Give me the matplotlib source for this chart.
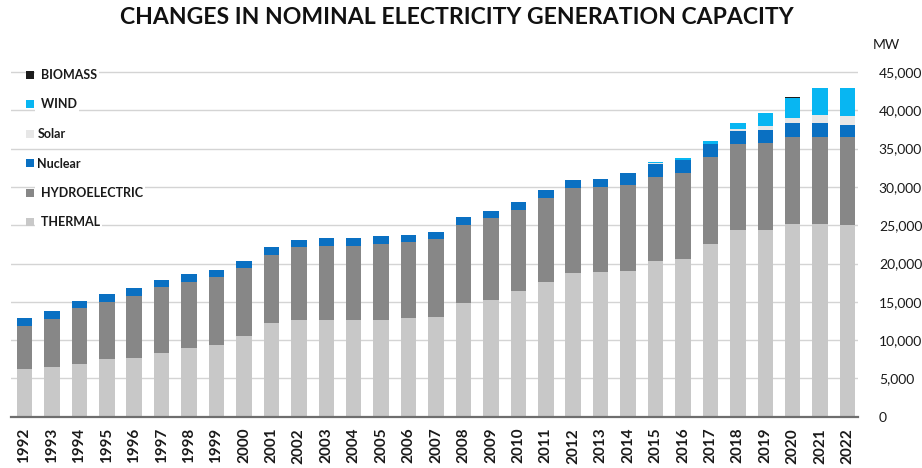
import matplotlib
matplotlib.use("Agg")
import matplotlib.pyplot as plt
import numpy as np

years = [str(y) for y in range(1992, 2023)]
thermal = [6230, 6450, 6880, 7490, 7700, 8270, 8930, 9360, 10530, 12190, 12600,
           12620, 12620, 12620, 12840, 13050, 14900, 15300, 16400, 17600, 18700,
           18850, 19060, 20330, 20590, 22600, 24370, 24370, 25100, 25200, 25050]
hydro = [5670, 6300, 7270, 7510, 8100, 8630, 8670, 8840, 8840, 8910, 9500,
         9680, 9680, 9930, 9930, 10110, 10100, 10600, 10600, 11000, 11200,
         11150, 11190, 10970, 11210, 11300, 11230, 11330, 11380, 11280, 11430]
nuclear = [1010] * 22 + [1600, 1755, 1755, 1755, 1755, 1755, 1820, 1820, 1600]
solar = [0] * 23 + [10, 10, 10, 200, 450, 660, 1090, 1180]
wind = [0] * 23 + [250, 200, 300, 800, 1700, 2610, 3480, 3610]
biomass = [0] * 28 + [200, 0, 0]

series = [
    (" THERMAL", thermal, "#c8c8c8"),
    (" HYDROELECTRIC", hydro, "#878787"),
    ("Nuclear", nuclear, "#0a70c2"),
    ("Solar", solar, "#e7e7e7"),
    (" WIND", wind, "#08b6f2"),
    (" BIOMASS", biomass, "#1c1c1c"),
]
yticks = [0, 5000, 10000, 15000, 20000, 25000, 30000, 35000, 40000, 45000]

plt.rcParams['font.family'] = ['Lato', 'DejaVu Sans']

fig = plt.figure(figsize=(9.22, 4.68), dpi=100)
ax = fig.add_axes([11 / 922, 1 - 416.7 / 468, (858 - 11) / 922, (416.7 - 68.2) / 468])

x = np.arange(len(years))
bottom = np.zeros(len(years))
handles = []
for label, vals, color in series:
    v = np.array(vals, dtype=float)
    b = ax.bar(x, v, bottom=bottom, width=0.565, color=color, label=label, zorder=3)
    handles.append(b)
    bottom += v

ax.set_xlim(-0.49, 30.38)
ax.set_ylim(0, 45500)
ax.set_xticks(x)
ax.set_xticklabels(years, rotation=90, fontsize=11, fontweight='bold', color='#1a1a1a')
ax.yaxis.tick_right()
ax.set_yticks(yticks)
ax.set_yticklabels([f"{t:,}" for t in yticks], fontsize=10, color='#1a1a1a', ha='left')
ax.tick_params(axis='y', length=0, pad=15)
ax.tick_params(axis='x', length=0, pad=8)
ax.grid(axis='y', color='#d4d4d4', linewidth=1, zorder=0)
ax.set_axisbelow(True)
for s in ['top', 'left', 'right']:
    ax.spines[s].set_visible(False)
ax.spines['bottom'].set_color('#6e6e6e')
ax.spines['bottom'].set_linewidth(1.6)
ax.spines['bottom'].set_zorder(4)

fig.text(456.5 / 922, 1 - 18 / 468, "CHANGES IN NOMINAL ELECTRICITY GENERATION CAPACITY",
         ha='center', va='center', fontsize=16.6, fontweight='bold', color='#111111')
fig.text(873 / 922, 1 - 45 / 468, "MW", ha='left', va='center', fontsize=10, color='#1a1a1a')

leg = fig.legend(handles[::-1], [h.get_label() for h in handles[::-1]],
                 loc='upper left', bbox_to_anchor=(26 / 922, 1 - 69 / 468),
                 frameon=False, fontsize=9, handlelength=0.62, handleheight=0.62,
                 handletextpad=0.3, labelspacing=1.40, borderpad=0, borderaxespad=0)
for t in leg.get_texts():
    t.set_fontweight('bold')
    t.set_color('#1a1a1a')
    t.set_bbox(dict(facecolor='white', edgecolor='none', pad=1.5))

fig.savefig("out.png", dpi=100)
